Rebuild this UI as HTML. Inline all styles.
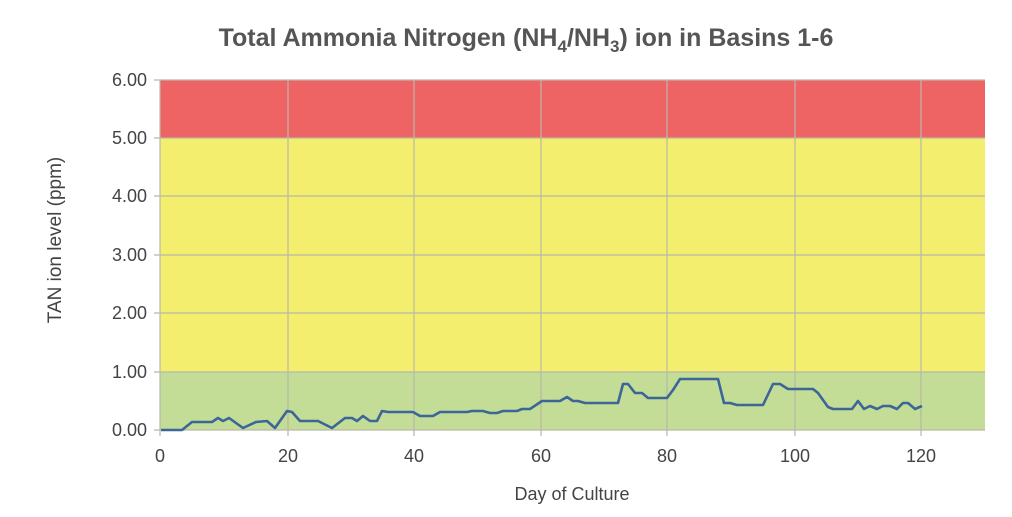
<!DOCTYPE html>
<html><head><meta charset="utf-8"><style>
html,body{margin:0;padding:0;background:#fff;}
svg{display:block;font-family:"Liberation Sans","DejaVu Sans",sans-serif;}
</style></head><body>
<svg width="1012" height="517" viewBox="0 0 1012 517">
<rect width="1012" height="517" fill="#fff"/>
<text x="526" y="46" text-anchor="middle" font-size="25" font-weight="bold" fill="#555">Total Ammonia Nitrogen (NH<tspan font-size="17" dy="6">4</tspan><tspan dy="-6">/NH</tspan><tspan font-size="17" dy="6">3</tspan><tspan dy="-6">) ion in Basins 1-6</tspan></text>
<rect x="160" y="80" width="825" height="58" fill="#ee6363"/>
<rect x="160" y="138" width="825" height="234" fill="#f4ee6e"/>
<rect x="160" y="372" width="825" height="58" fill="#c3dd96"/>
<g stroke="#b8b8a8" stroke-width="1.2">
<line x1="288" y1="80" x2="288" y2="436"/><line x1="414" y1="80" x2="414" y2="436"/>
<line x1="541" y1="80" x2="541" y2="436"/><line x1="667" y1="80" x2="667" y2="436"/>
<line x1="795" y1="80" x2="795" y2="436"/><line x1="921" y1="80" x2="921" y2="436"/>
<line x1="160" y1="80" x2="160" y2="436"/>
<line x1="154" y1="80" x2="985" y2="80"/><line x1="154" y1="138" x2="985" y2="138"/>
<line x1="154" y1="196" x2="985" y2="196"/><line x1="154" y1="255" x2="985" y2="255"/>
<line x1="154" y1="313" x2="985" y2="313"/><line x1="154" y1="372" x2="985" y2="372"/>
<line x1="154" y1="430" x2="985" y2="430"/>
</g>
<g font-size="18" fill="#444" text-anchor="end">
<text x="147" y="86">6.00</text><text x="147" y="144">5.00</text><text x="147" y="202">4.00</text>
<text x="147" y="261">3.00</text><text x="147" y="319">2.00</text><text x="147" y="378">1.00</text>
<text x="147" y="436">0.00</text>
</g>
<g font-size="18" fill="#444" text-anchor="middle">
<text x="160" y="462">0</text><text x="288" y="462">20</text><text x="414" y="462">40</text>
<text x="541" y="462">60</text><text x="667" y="462">80</text><text x="795" y="462">100</text>
<text x="921" y="462">120</text>
</g>
<text x="572" y="500" text-anchor="middle" font-size="18" fill="#444">Day of Culture</text>
<text transform="translate(61,240) rotate(-90)" text-anchor="middle" font-size="19" fill="#444">TAN ion level (ppm)</text>
<rect x="0" y="60" width="47" height="300" fill="#fff"/>
<polyline fill="none" stroke="#3c6598" stroke-width="2.6" stroke-linejoin="round" points="161,430 182,430 192,422 212,422 218,418 223,421 229,418 243,428 256,422 267,421 275,428 287,411 292,412 300,421 318,421 332,428 345,418 352,418 357,421 363,416 370,421 377,421 382,411 388,412 413,412 420,416 433,416 440,412 467,412 472,411 483,411 490,413 497,413 503,411 517,411 522,409 530,409 542,401 560,401 567,397 573,401 578,401 585,403 618,403 623,384 628,384 635,393 642,393 648,398 667,398 673,390 680,379 718,379 724,403 730,403 737,405 763,405 773,384 780,384 788,389 813,389 818,393 828,407 833,409 852,409 858,401 864,409 870,406 877,409 883,406 890,406 897,409 903,403 908,403 915,409 922,406"/>
</svg>
</body></html>
